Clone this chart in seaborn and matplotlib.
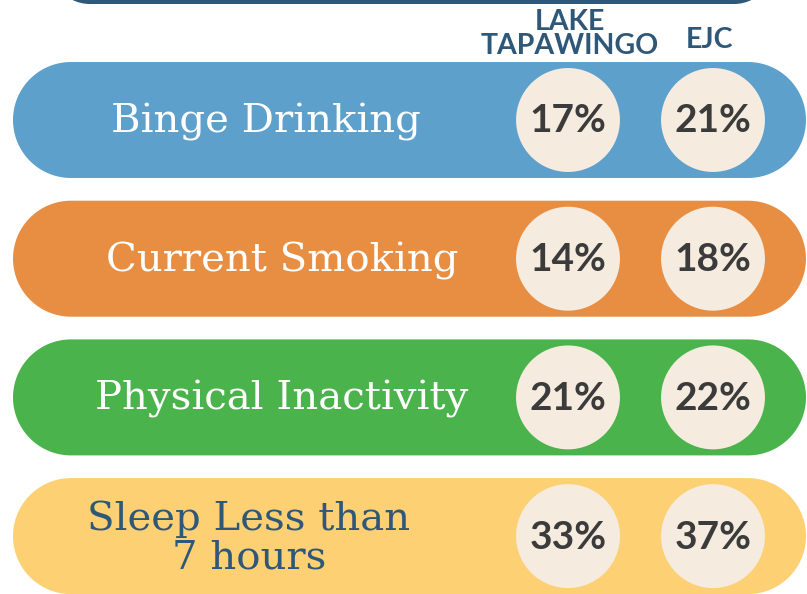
import numpy as np
import seaborn as sns
import pandas as pd
import matplotlib.pyplot as plt
from matplotlib.patches import Polygon

# data
measures = ['Binge Drinking', 'Current Smoking', 'Physical Inactivity', 'Sleep Less than\n7 hours']
lake_tapawingo = [17, 14, 21, 33]
ejc = [21, 18, 22, 37]
bar_colors = ['#5DA0CB', '#E88E42', '#4BB34B', '#FDD073']
label_colors = ['white', 'white', 'white', '#2F5878']
col_headers = ['LAKE\nTAPAWINGO', 'EJC']

navy = '#2F5878'
circle_fill = '#F5EBDF'

df = pd.DataFrame({'measure': measures, 'Lake Tapawingo': lake_tapawingo, 'EJC': ejc})
df['row'] = range(len(df))
long = df.melt(id_vars=['measure', 'row'], value_vars=['Lake Tapawingo', 'EJC'],
               var_name='place', value_name='pct')

# layout in pixels
W, H = 807, 594
top0, pitch, bar_h = 62, 138.7, 116
r = bar_h / 2
x_left, x_right = 13, 806
label_x = [266, 282, 282, 249]
col_x = {'Lake Tapawingo': 568, 'EJC': 713}
long['x'] = long['place'].map(col_x)
long['y'] = top0 + r + long['row'] * pitch


def pill(ax, x0, x1, yc, rad, color):
    # one outline: left half circle, then right half circle
    t1 = np.linspace(np.pi / 2, 3 * np.pi / 2, 60)
    t2 = np.linspace(-np.pi / 2, np.pi / 2, 60)
    xs = np.r_[x0 + rad + rad * np.cos(t1), x1 - rad + rad * np.cos(t2)]
    ys = np.r_[yc - rad * np.sin(t1), yc - rad * np.sin(t2)]
    ax.add_patch(Polygon(np.c_[xs, ys], closed=True, fc=color, ec='none'))


sns.set_style('white')
fig = plt.figure(figsize=(W / 100, H / 100), dpi=100)
ax = fig.add_axes([0, 0, 1, 1])
ax.set_xlim(0, W)
ax.set_ylim(H, 0)
ax.set_aspect('equal')
ax.axis('off')

# dark banner peeking at the top
pill(ax, 50, 774, -36, 40, navy)

# pills with labels
for i, (m, c, lc) in enumerate(zip(measures, bar_colors, label_colors)):
    yc = top0 + r + i * pitch
    pill(ax, x_left, x_right, yc, r, c)
    ax.text(label_x[i], yc + 2, m, ha='center', va='center', color=lc,
            fontsize=29, family='DejaVu Serif', linespacing=1.05)

# circles
sns.scatterplot(data=long, x='x', y='y', s=5600, color=circle_fill, edgecolor='none',
                legend=False, ax=ax, zorder=3)
for _, row in long.iterrows():
    ax.text(row['x'], row['y'] + 1, f"{row['pct']}%", ha='center', va='center', color='#3B3B3B',
            fontsize=28, fontweight='bold', family='Lato', zorder=4)

# column headers
ax.text(570, 34, col_headers[0], ha='center', va='center', color=navy,
        fontsize=20.5, fontweight='bold', family='Lato', linespacing=0.92)
ax.text(709, 40, col_headers[1], ha='center', va='center', color=navy,
        fontsize=20.5, fontweight='bold', family='Lato')

ax.set_xlim(0, W)
ax.set_ylim(H, 0)
fig.savefig('out.png', dpi=100)
